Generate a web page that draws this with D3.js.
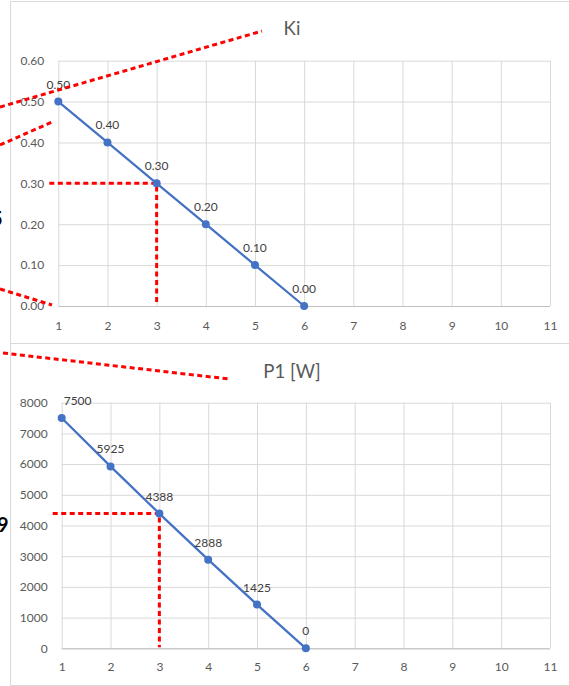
<!DOCTYPE html>
<html>
<head>
<meta charset="utf-8">
<script src="https://cdn.jsdelivr.net/npm/d3@7"></script>
<style>
  html, body { margin: 0; padding: 0; background: #ffffff; }
  svg { display: block; font-family: Lato, "Open Sans", sans-serif; }
</style>
</head>
<body>
<svg id="chart" width="569" height="686"></svg>
<script>
// Step numbers along the horizontal axis
const steps = [1, 2, 3, 4, 5, 6];
// Coefficient Ki at each step
const kiValues = [0.50, 0.40, 0.30, 0.20, 0.10, 0.00];
// Power P1 in watts at each step
const p1Values = [7500, 5925, 4388, 2888, 1425, 0];
// Axis ticks
const xTicks = [1, 2, 3, 4, 5, 6, 7, 8, 9, 10, 11];
const kiTicks = [0, 0.1, 0.2, 0.3, 0.4, 0.5, 0.6];
const p1Ticks = [0, 1000, 2000, 3000, 4000, 5000, 6000, 7000, 8000];
// Reading taken at step 3
const readStep = 3;
const readKi = 0.30;
const readP1 = 4388;

const svg = d3.select("#chart");
const GRID = "#d9d9d9", AXIS = "#bfbfbf", TEXT = "#595959", LABEL = "#404040";
const BLUE = "#4472c4", RED = "#ff0000";

// Chart frames
const frames = svg.append("g").attr("fill", "none").attr("stroke", GRID).attr("stroke-width", 1);
frames.append("path").attr("d", "M569,1.5H10.5V685.5H569");
frames.append("path").attr("d", "M10.5,343.5H569");

function drawChart(opts) {
  const g = svg.append("g");
  const x = d3.scaleLinear().domain([1, 11]).range(opts.xRange);
  const y = d3.scaleLinear().domain([opts.ticks[0], opts.ticks[opts.ticks.length - 1]]).range(opts.yRange);

  // Horizontal gridlines
  g.append("g").call(d3.axisLeft(y).tickValues(opts.ticks).tickSize(-(opts.xRange[1] - opts.xRange[0])).tickFormat(""))
    .attr("transform", `translate(${opts.xRange[0]},0)`)
    .call(s => s.select(".domain").remove())
    .call(s => s.selectAll("line").attr("stroke", GRID));
  // Vertical gridlines
  g.append("g").call(d3.axisBottom(x).tickValues(xTicks).tickSize(-(opts.yRange[0] - opts.yRange[1])).tickFormat(""))
    .attr("transform", `translate(0,${opts.yRange[0]})`)
    .call(s => s.select(".domain").remove())
    .call(s => s.selectAll("line").attr("stroke", GRID));
  // Horizontal axis line
  g.append("line").attr("x1", opts.xRange[0]).attr("x2", opts.xRange[1])
    .attr("y1", opts.yRange[0] + 0.5).attr("y2", opts.yRange[0] + 0.5).attr("stroke", AXIS);

  // Tick labels
  const yAx = g.append("g").attr("transform", `translate(${opts.xRange[0]},0)`)
    .call(d3.axisLeft(y).tickValues(opts.ticks).tickSize(0).tickPadding(opts.yPad).tickFormat(opts.tickFmt));
  const xAx = g.append("g").attr("transform", `translate(0,${opts.yRange[0]})`)
    .call(d3.axisBottom(x).tickValues(xTicks).tickSize(0).tickPadding(opts.xPad));
  [yAx, xAx].forEach(a => {
    a.select(".domain").remove();
    a.selectAll("text").attr("fill", TEXT).style("font-size", "12px").style("font-family", "Lato, sans-serif");
  });

  // Title
  g.append("text").attr("x", 292).attr("y", opts.titleY).attr("text-anchor", "middle")
    .attr("fill", TEXT).style("font-size", "18.6px").text(opts.title);

  // Reading guides (red dotted)
  const guide = g.append("g").attr("fill", "none").attr("stroke", RED)
    .attr("stroke-width", 3).attr("stroke-dasharray", "5,3.5");
  guide.append("path").attr("d", d3.line()([[opts.xRange[0] - 9, y(opts.readValue)], [x(readStep), y(opts.readValue)], [x(readStep), opts.yRange[0] - 1]]));

  // Series line and markers
  const pts = steps.map((s, i) => [x(s), y(opts.values[i])]);
  g.append("path").attr("d", d3.line()(pts)).attr("fill", "none")
    .attr("stroke", BLUE).attr("stroke-width", 2.25).attr("stroke-linejoin", "round");
  g.selectAll("circle.m").data(pts).join("circle").attr("class", "m")
    .attr("cx", d => d[0]).attr("cy", d => d[1]).attr("r", 4).attr("fill", BLUE);

  // Data labels above each point
  const labels = g.selectAll("text.v").data(steps).join("text").attr("class", "v")
    .attr("x", (d, i) => pts[i][0]).attr("y", (d, i) => pts[i][1] - 13)
    .attr("text-anchor", "middle").attr("fill", LABEL).style("font-size", "12px")
    .text((d, i) => opts.labelFmt(opts.values[i]));
  if (opts.keepLabelsInside) {
    labels.each(function () {
      const b = this.getBBox();
      const minX = opts.xRange[0] + 2;
      if (b.x < minX) d3.select(this).attr("x", +d3.select(this).attr("x") + (minX - b.x));
    });
  }
  return { x, y };
}

drawChart({
  xRange: [58.3, 550], yRange: [306, 60.7], ticks: kiTicks, values: kiValues,
  tickFmt: d3.format(".2f"), labelFmt: d3.format(".2f"), yPad: 14, xPad: 15,
  title: "Ki", titleY: 35, readValue: readKi, keepLabelsInside: false
});
drawChart({
  xRange: [61.7, 550], yRange: [648.3, 402.7], ticks: p1Ticks, values: p1Values,
  tickFmt: d3.format("d"), labelFmt: d3.format("d"), yPad: 14, xPad: 14,
  title: "P1 [W]", titleY: 378, readValue: readP1, keepLabelsInside: true
});

// Connector strokes running in from the neighbouring drawing
const connectors = svg.append("g").attr("fill", "none").attr("stroke", RED)
  .attr("stroke-width", 3).attr("stroke-dasharray", "5,3.5");
[
  [[0, 107], [262, 31]],
  [[0, 145], [52, 122]],
  [[0, 289], [52, 305]],
  [[3, 353], [229, 379]]
].forEach(seg => connectors.append("path").attr("d", d3.line()(seg)));

// Edge of neighbouring symbols
svg.append("text").attr("x", -9).attr("y", 226).attr("font-weight", "bold")
  .style("font-size", "20px").attr("fill", "#000").text("5");
svg.append("text").attr("x", -3).attr("y", 532).attr("font-weight", "bold")
  .style("font-size", "20px").attr("fill", "#000").text("9");
</script>
</body>
</html>
